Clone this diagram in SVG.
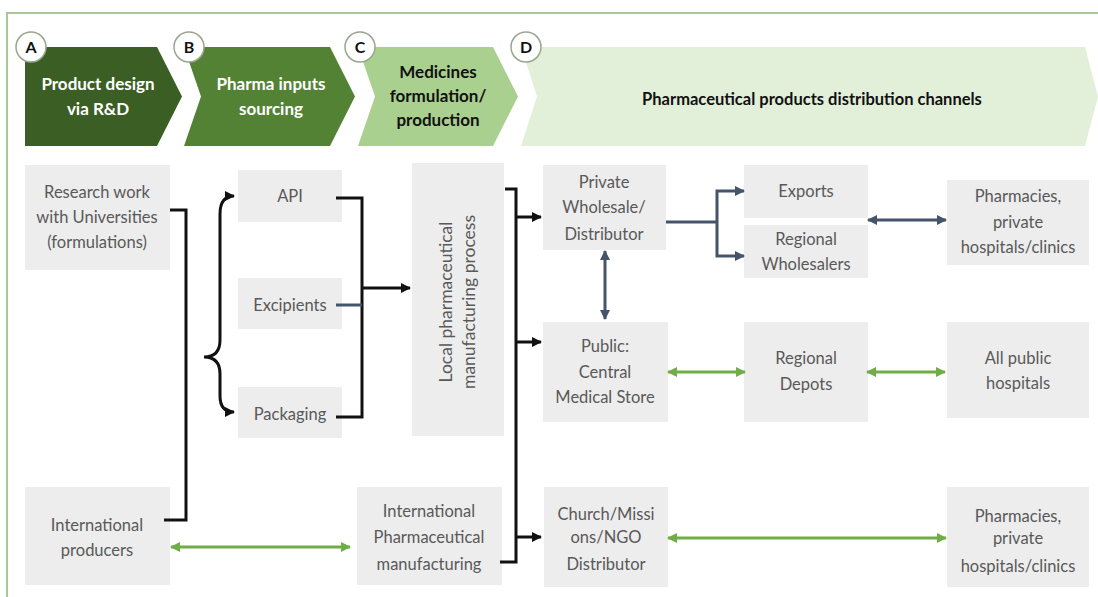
<svg xmlns="http://www.w3.org/2000/svg" width="1098" height="597" viewBox="0 0 1098 597">
<defs>
<style>
.box{fill:#ededed;}
.t{font-family:Lato,"Liberation Sans",sans-serif;font-size:16.5px;fill:#595959;text-anchor:middle;}
.r{font-size:17.5px;}
.h{font-family:Lato,"Liberation Sans",sans-serif;font-size:17px;font-weight:bold;text-anchor:middle;}
.hw{fill:#ffffff;}
.hb{fill:#111111;}
.badge{fill:#ffffff;stroke:#9aa58f;stroke-width:1.5;}
.bl{font-family:Lato,"Liberation Sans",sans-serif;font-size:16px;font-weight:bold;fill:#111111;text-anchor:middle;}
.k{fill:none;stroke:#111111;stroke-width:3;}
.s{fill:none;stroke:#44546a;stroke-width:3;}
.g{fill:none;stroke:#70ad47;stroke-width:3;}
</style>
<marker id="ak" viewBox="0 0 10 10" refX="9" refY="5" markerWidth="10" markerHeight="10" markerUnits="userSpaceOnUse" orient="auto-start-reverse"><path d="M0,0 L10,5 L0,10 z" fill="#111111"/></marker>
<marker id="as" viewBox="0 0 10 10" refX="9" refY="5" markerWidth="10" markerHeight="10" markerUnits="userSpaceOnUse" orient="auto-start-reverse"><path d="M0,0 L10,5 L0,10 z" fill="#44546a"/></marker>
<marker id="ag" viewBox="0 0 10 10" refX="9" refY="5" markerWidth="10" markerHeight="10" markerUnits="userSpaceOnUse" orient="auto-start-reverse"><path d="M0,0 L10,5 L0,10 z" fill="#70ad47"/></marker>
</defs>
<rect x="0" y="0" width="1098" height="597" fill="#ffffff"/>
<path d="M7,597 V13 H1098" fill="none" stroke="#a9c79b" stroke-width="2"/>

<g id="stageA">
<polygon points="25,47 157,47 182,96.5 157,146 25,146" fill="#3b5e25"/>
<text class="h hw" x="98" y="90">Product design</text>
<text class="h hw" x="98" y="115">via R&amp;D</text>
<circle class="badge" cx="31" cy="47" r="15"/>
<text class="bl" x="31" y="53">A</text>
</g>
<g id="stageB">
<polygon points="184,47 330,47 355,96.5 330,146 184,146 201,96.5" fill="#548235"/>
<text class="h hw" x="271" y="90">Pharma inputs</text>
<text class="h hw" x="271" y="115">sourcing</text>
<circle class="badge" cx="189" cy="47" r="15"/>
<text class="bl" x="189" y="53">B</text>
</g>
<g id="stageC">
<polygon points="358,47 493,47 518,96.5 493,146 358,146 375,96.5" fill="#a9d08e"/>
<text class="h hb" x="438" y="78">Medicines</text>
<text class="h hb" x="438" y="102">formulation/</text>
<text class="h hb" x="438" y="126">production</text>
<circle class="badge" cx="360" cy="47" r="15"/>
<text class="bl" x="360" y="53">C</text>
</g>
<g id="stageD">
<polygon points="521,47 1085,47 1098,96.5 1085,146 521,146 537,96.5" fill="#e2efd9"/>
<text class="h hb" x="812" y="105" style="font-size:16.5px">Pharmaceutical products distribution channels</text>
<circle class="badge" cx="526" cy="47" r="15"/>
<text class="bl" x="526" y="53">D</text>
</g>

<g id="research"><rect class="box" x="25" y="165" width="145" height="105"/>
<text class="t" x="97" y="198">Research work</text><text class="t" x="97" y="223">with Universities</text><text class="t" x="97" y="248">(formulations)</text></g>
<g id="intlProducers"><rect class="box" x="25" y="487" width="145" height="98"/>
<text class="t" x="97" y="531">International</text><text class="t" x="97" y="556">producers</text></g>
<g id="api"><rect class="box" x="238" y="170" width="104" height="52"/><text class="t" x="290" y="202">API</text></g>
<g id="excipients"><rect class="box" x="238" y="278" width="104" height="51"/><text class="t" x="290" y="311">Excipients</text></g>
<g id="packaging"><rect class="box" x="238" y="387" width="104" height="51"/><text class="t" x="290" y="420">Packaging</text></g>
<g id="localMfg"><rect class="box" x="412" y="163" width="92" height="273"/>
<text class="t r" transform="translate(447,302) rotate(-90)" x="0" y="5">Local pharmaceutical</text>
<text class="t r" transform="translate(470,302) rotate(-90)" x="0" y="5">manufacturing process</text></g>
<g id="intlPharma"><rect class="box" x="357" y="487" width="145" height="98"/>
<text class="t" x="429" y="517">International</text><text class="t" x="429" y="543">Pharmaceutical</text><text class="t" x="429" y="570">manufacturing</text></g>
<g id="privateWholesale"><rect class="box" x="543" y="165" width="123" height="85"/>
<text class="t" x="604" y="188">Private</text><text class="t" x="604" y="213">Wholesale/</text><text class="t" x="604" y="240">Distributor</text></g>
<g id="exports"><rect class="box" x="744" y="165" width="124" height="53"/><text class="t" x="806" y="197">Exports</text></g>
<g id="regionalWholesalers"><rect class="box" x="744" y="225" width="124" height="53"/>
<text class="t" x="806" y="245">Regional</text><text class="t" x="806" y="270">Wholesalers</text></g>
<g id="pharmaciesTop"><rect class="box" x="947" y="180" width="142" height="85"/>
<text class="t" x="1018" y="202">Pharmacies,</text><text class="t" x="1018" y="228">private</text><text class="t" x="1018" y="253">hospitals/clinics</text></g>
<g id="publicCMS"><rect class="box" x="543" y="322" width="125" height="100"/>
<text class="t" x="605" y="352">Public:</text><text class="t" x="605" y="378">Central</text><text class="t" x="605" y="403">Medical Store</text></g>
<g id="regionalDepots"><rect class="box" x="744" y="322" width="124" height="100"/>
<text class="t" x="806" y="364">Regional</text><text class="t" x="806" y="390">Depots</text></g>
<g id="allPublic"><rect class="box" x="947" y="322" width="142" height="96"/>
<text class="t" x="1018" y="364">All public</text><text class="t" x="1018" y="389">hospitals</text></g>
<g id="church"><rect class="box" x="544" y="487" width="124" height="100"/>
<text class="t" x="606" y="520">Church/Missi</text><text class="t" x="606" y="543">ons/NGO</text><text class="t" x="606" y="570">Distributor</text></g>
<g id="pharmaciesBottom"><rect class="box" x="947" y="487" width="142" height="100"/>
<text class="t" x="1018" y="522">Pharmacies,</text><text class="t" x="1018" y="544">private</text><text class="t" x="1018" y="572">hospitals/clinics</text></g>

<g id="connectors">
<path class="k" d="M170,210 H186 V520 H164"/>
<path class="k" d="M234,196 Q220,196 220,214 L220,340 Q220,357 204,357 Q220,357 220,374 L220,396 Q220,412 234,412" marker-start="url(#ak)" marker-end="url(#ak)" stroke-width="2.5"/>
<path class="k" d="M336,198 H362 V417 H336"/>
<path class="s" d="M336,305 H362"/>
<path class="k" d="M362,288 H410" marker-end="url(#ak)"/>
<path class="k" d="M505,189 H516 V562 H500"/>
<path class="k" d="M516,217 H541" marker-end="url(#ak)"/>
<path class="k" d="M516,342 H541" marker-end="url(#ak)"/>
<path class="k" d="M516,537 H541" marker-end="url(#ak)"/>
<path class="s" d="M666,222 H717"/>
<path class="s" d="M744,191 H717 V256 H744" marker-start="url(#as)" marker-end="url(#as)"/>
<path class="s" d="M868,220 H946" marker-start="url(#as)" marker-end="url(#as)"/>
<path class="s" d="M605,251 V319" marker-start="url(#as)" marker-end="url(#as)"/>
<path class="g" d="M668,372 H745" marker-start="url(#ag)" marker-end="url(#ag)"/>
<path class="g" d="M867,372 H945" marker-start="url(#ag)" marker-end="url(#ag)"/>
<path class="g" d="M668,538 H946" marker-start="url(#ag)" marker-end="url(#ag)"/>
<path class="g" d="M171,547 H350" marker-start="url(#ag)" marker-end="url(#ag)"/>
</g>
</svg>
